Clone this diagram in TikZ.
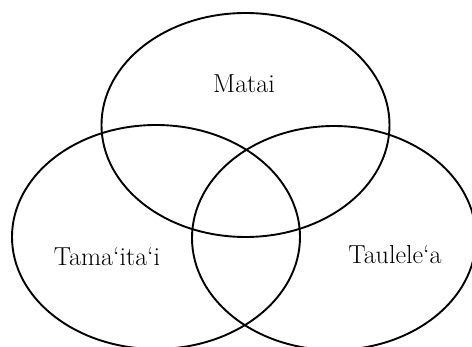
\documentclass[tikz,border=0pt]{standalone}
\usepackage{amsmath}

\begin{document}
\begin{tikzpicture}[x=1pt, y=1pt, line width=1.9pt]
  \useasboundingbox (0,0) rectangle (472,-347);
  \clip (0,0) rectangle (472,-347);

  % Elipse superior (Matai)
  \draw (245.5,-125) ellipse (144 and 112);

  % Elipse izquierda
  \draw (156,-237) ellipse (144 and 112);

  % Elipse derecha
  \draw (334,-238) ellipse (142 and 112);

  % Etiquetas
  \node (matai) at (244,-84) {\fontsize{26}{30}\selectfont Matai};
  \node (tamaitai) at (107,-257) {\fontsize{26}{30}\selectfont Tama`ita`i};
  \node (taulelea) at (395,-255) {\fontsize{26}{30}\selectfont Taulele`a};

\end{tikzpicture}
\end{document}
